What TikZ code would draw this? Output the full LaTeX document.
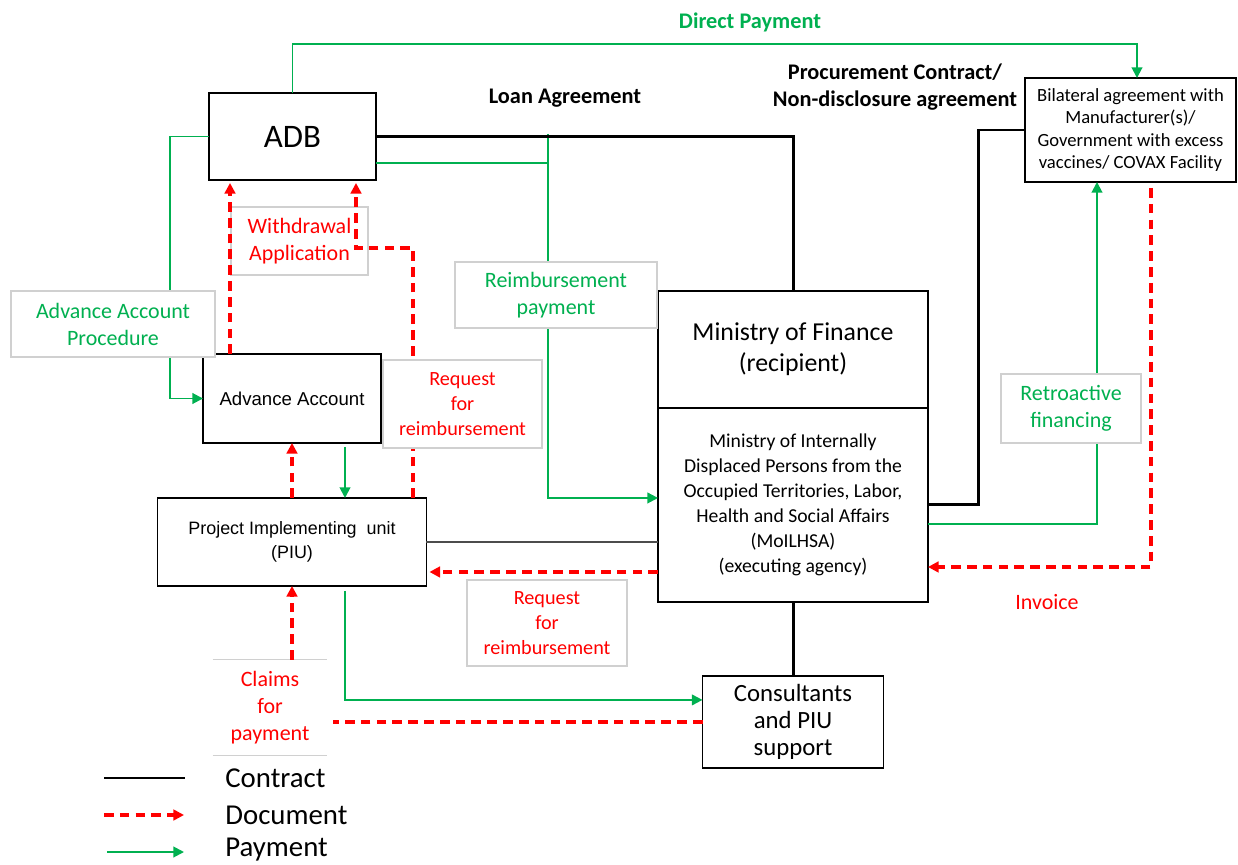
\documentclass[tikz,border=0pt]{standalone}
\usepackage{fontspec}
\setmainfont{Carlito}
\newfontfamily\arialfont{Liberation Sans}
\usepackage{xcolor}
\usetikzlibrary{arrows.meta, positioning, calc}
\definecolor{paygreen}{RGB}{0,176,80}
\definecolor{docred}{RGB}{255,0,0}
\definecolor{lblgray}{RGB}{208,208,208}

\begin{document}
\begin{tikzpicture}[
  x=0.02cm, y=-0.02cm,
  box/.style={draw, line width=1.1pt, fill=white, outer sep=0pt, align=center},
  lbl/.style={draw=lblgray, line width=0.6pt, fill=white, align=center, font=\fontsize{12.5}{15.4}\selectfont},
  pay/.style={paygreen, line width=1.1pt, -{Triangle[length=6pt,width=6pt]}},
  doc/.style={docred, line width=1.9pt, dash pattern=on 5.5pt off 3.5pt, -{Triangle[length=6pt,width=6pt]}},
  con/.style={black, line width=1.7pt},
  note/.style={font=\bfseries\fontsize{12.7}{15.4}\selectfont, align=center},
  key/.style={anchor=west, inner sep=0pt, font=\fontsize{16.4}{19}\selectfont},
]
\useasboundingbox (0,0) rectangle (1238,865);

% parties
\node[box, minimum width=3.34cm, minimum height=1.74cm, font=\fontsize{18.7}{22}\selectfont] (adb) at (292.5,136.5) {ADB};
\node[box, minimum width=4.22cm, minimum height=2.08cm, font=\fontsize{10.6}{12.7}\selectfont] (bil) at (1130.5,130) {Bilateral agreement with\\Manufacturer(s)/\\Government with excess\\vaccines/ COVAX Facility};
\node[box, minimum width=5.4cm, minimum height=2.34cm, font=\fontsize{14.7}{17.6}\selectfont] (mof) at (793,349.5) {Ministry of Finance\\(recipient)};
\node[box, below=0pt of mof, minimum width=5.4cm, minimum height=3.88cm, font=\fontsize{11.2}{14.2}\selectfont] (moi) {Ministry of Internally\\Displaced Persons from the\\Occupied Territories, Labor,\\Health and Social Affairs\\(MoILHSA)\\(executing agency)};
\node[box, below=1.48cm of moi, minimum width=3.62cm, minimum height=1.84cm, font=\fontsize{14.1}{15.4}\selectfont] (cons) {Consultants\\and PIU\\support};
\node[box, minimum width=3.56cm, minimum height=1.78cm, font=\arialfont\fontsize{10.6}{13}\selectfont] (adv) at (292,398.5) {Advance Account};
\node[box, below=1.1cm of adv, minimum width=5.38cm, minimum height=1.76cm, font=\arialfont\fontsize{10.2}{13.7}\selectfont] (piu) {Project Implementing\ \ unit\\(PIU)};

% headings
\node[note, text=paygreen] (dp) at (750,22) {Direct Payment};
\node[note] (la) at (565,98) {Loan Agreement};
\node[note] (pc) at (895,87) {Procurement Contract/\\Non-disclosure agreement};

% labels lying under the lines
\node[lbl, text=docred, minimum width=2.74cm, minimum height=1.36cm] (wa) at (299.5,241) {Withdrawal\\Application};
\node[align=center, text=docred, minimum width=2.28cm, minimum height=1.9cm, font=\fontsize{12.5}{15.4}\selectfont] (claims) at (270,707.5) {Claims\\for\\payment};
\draw[lblgray, line width=0.6pt] (claims.north west) -- (claims.north east) (claims.south west) -- (claims.south east);

% payment flows
\coordinate (rp) at (548,134);
\draw[pay] (adb.north) -- ++(0,-49) -| ($(bil.north)+(6.5,0)$);
\draw[pay] (adb.west) -- ++(-39,0) |- (adv.west);
\draw[pay, -] ($(adb.east)+(0,26.5)$) -| (rp);
\draw[pay] (rp) |- ($(moi.west)+(0,-7)$);
\draw[pay] ($(adv.south)+(53,4)$) coordinate (ap) -- (ap |- piu.north);
\draw[pay] ($(piu.south)+(53,5)$) |- ($(cons.west)+(0,-22)$);
\draw[pay] ($(moi.east)+(0,19)$) -| ($(bil.south)+(-33.5,0)$);

% contracts
\draw[con] (adb.east) -| (mof.north);
\draw[con] (bil.west) -- ++(-47,0) |- (moi.east);
\draw[con] (moi.south) -- (cons.north);
\draw[black!70, line width=0.7pt] (piu.east) -- (piu.east -| moi.west);

% documents
\draw[doc] ($(adv.north)+(-62,0)$) coordinate (wp) -- ($(wp |- adb.south)+(0,3)$);
\draw[doc] ($(piu.north)+(121,0)$) |- ($(adb.south)+(63.5,68)$) -- ($(adb.south)+(63.5,3)$);
\draw[doc] (piu.north) -- (piu.north |- adv.south);
\draw[doc] ($(moi.west)+(0,67)$) coordinate (rq) -- ($(rq -| piu.east)+(3,0)$);
\draw[doc] (piu.south |- claims.north) -- (piu.south);
\draw[doc, -] (cons.west) -- ($(cons.west -| claims.east)+(6,0)$);
\draw[doc] ($(bil.south)+(20.5,6)$) |- ($(moi.east)+(0,62)$);

% labels over the lines
\node[lbl, text=paygreen, minimum width=4.08cm, minimum height=1.32cm] (aap) at (113,324) {Advance Account\\Procedure};
\node[lbl, text=paygreen, minimum width=4.04cm, minimum height=1.32cm] (rpay) at (556,295) {Reimbursement\\payment};
\node[lbl, text=docred, font=\fontsize{11.5}{14}\selectfont, minimum width=3.18cm, minimum height=1.76cm] (rf1) at (462.5,404) {Request\\for\\reimbursement};
\node[lbl, text=docred, font=\fontsize{11.5}{14}\selectfont, minimum width=3.2cm, minimum height=1.72cm] (rf2) at (547,623) {Request\\for\\reimbursement};
\node[lbl, text=paygreen, minimum width=2.8cm, minimum height=1.38cm] (retro) at (1071,408.5) {Retroactive\\financing};
\node[text=docred, font=\fontsize{12.5}{15.4}\selectfont] (inv) at (1047,602) {Invoice};

% legend
\node[key] (kcon) at (225,778) {Contract};
\node[key] (kdoc) at (225,815) {Document};
\node[key] (kpay) at (225,850) {Payment};
\draw[con] ($(kcon.west)+(-121,0)$) -- ($(kcon.west)+(-40,0)$);
\draw[doc] ($(kdoc.west)+(-121,0)$) -- ($(kdoc.west)+(-41,0)$);
\draw[pay] ($(kpay.west)+(-118,2)$) -- ($(kpay.west)+(-41,2)$);
\end{tikzpicture}
\end{document}
